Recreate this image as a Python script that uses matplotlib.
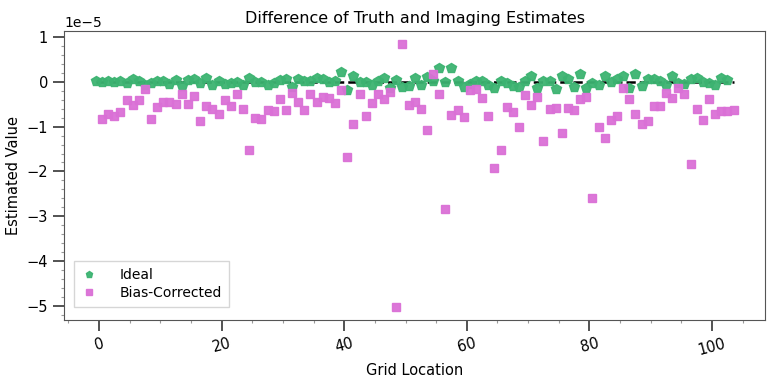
import numpy as np
import matplotlib
matplotlib.use("Agg")
import matplotlib.pyplot as plt
from matplotlib.ticker import MultipleLocator

# values in units of 1e-5
ideal = [0.02, 0.00, 0.01, 0.00, 0.01, -0.03, 0.07, 0.03, -0.06, -0.02,
         0.03, 0.03, -0.05, 0.04, -0.10, 0.05, 0.07, -0.03, 0.09, -0.08,
         0.02, -0.05, -0.03, 0.00, -0.08, 0.08, -0.01, -0.01, -0.07, -0.03,
         0.04, 0.06, -0.11, 0.06, 0.03, 0.03, 0.09, 0.07, 0.00, 0.02,
         0.21, -0.18, 0.13, -0.01, 0.00, -0.06, 0.03, 0.08, -0.13, 0.04,
         -0.12, -0.09, 0.08, -0.07, 0.11, 0.01, 0.30, -0.01, 0.32, 0.01,
         -0.11, -0.04, 0.03, 0.02, -0.08, -0.13, 0.01, -0.02, -0.09, -0.11,
         0.02, 0.13, -0.13, 0.02, 0.02, -0.16, 0.13, 0.06, -0.11, 0.17,
         -0.13, -0.03, -0.07, 0.12, -0.01, 0.07, 0.12, -0.14, 0.17, -0.09,
         0.07, 0.06, 0.03, -0.08, 0.13, -0.03, -0.04, 0.06, 0.09, 0.00,
         -0.03, -0.08, 0.08, 0.04]
bias_corr = [-0.83, -0.72, -0.76, -0.68, -0.41, -0.52, -0.40, -0.17, -0.82, -0.56,
             -0.46, -0.46, -0.50, -0.28, -0.49, -0.32, -0.87, -0.53, -0.60, -0.72,
             -0.41, -0.53, -0.27, -0.60, -1.51, -0.81, -0.83, -0.63, -0.65, -0.38,
             -0.63, -0.25, -0.46, -0.62, -0.28, -0.46, -0.33, -0.37, -0.47, -0.19,
             -1.67, -0.93, -0.27, -0.77, -0.47, -0.26, -0.39, -0.23, -5.02, 0.84,
             -0.52, -0.46, -0.60, -1.08, 0.18, -0.27, -2.84, -0.74, -0.62, -0.79,
             -0.18, -0.15, -0.36, -0.77, -1.92, -1.53, -0.57, -0.67, -1.01, -0.29,
             -0.51, -0.33, -1.32, -0.60, -0.58, -1.15, -0.58, -0.63, -0.39, -0.34,
             -2.60, -1.00, -1.26, -0.85, -0.76, -0.13, -0.38, -0.72, -0.95, -0.87,
             -0.55, -0.54, -0.24, -0.37, -0.14, -0.26, -1.83, -0.60, -0.85, -0.39,
             -0.72, -0.65, -0.64, -0.63]

ideal = np.array(ideal) * 1e-5
bias_corr = np.array(bias_corr) * 1e-5
grid = np.arange(len(ideal))

fig = plt.figure(figsize=(7.81, 3.84), dpi=100)
ax = fig.add_axes([0.082, 0.167, 0.898, 0.752])

ax.plot(grid - 0.5, ideal, 'p', color='mediumseagreen', ms=7, alpha=0.95, label='Ideal')
ax.plot(grid + 0.5, bias_corr, 's', color='orchid', ms=5.5, alpha=0.95, label='Bias-Corrected')
ax.plot([grid[0] - 0.5, grid[-1] + 0.5], [0, 0], 'k--', lw=1.8, zorder=1)

ax.set_title('Difference of Truth and Imaging Estimates', fontsize=11.5)
ax.set_xlabel('Grid Location', fontsize=10.5)
ax.set_ylabel('Estimated Value', fontsize=10.5)

ax.xaxis.set_major_locator(MultipleLocator(20))
ax.xaxis.set_minor_locator(MultipleLocator(5))
ax.yaxis.set_major_locator(MultipleLocator(1e-5))
ax.yaxis.set_minor_locator(MultipleLocator(0.2e-5))
ax.tick_params(which='major', direction='out', length=8, width=1.3, color='#444444', labelsize=10.5)
ax.tick_params(which='minor', direction='out', length=2.5, width=0.8, color='#999999')
plt.setp(ax.get_xticklabels(), rotation=15)
for s in ax.spines.values():
    s.set_color('#555555')

ax.legend(loc='lower left', markerscale=0.7, handlelength=1.2, handletextpad=1.6,
          fontsize=10, labelspacing=0.3, borderpad=0.5,
          fancybox=False, bbox_to_anchor=(0.004, 0.02))

fig.savefig('out.png', dpi=100)
